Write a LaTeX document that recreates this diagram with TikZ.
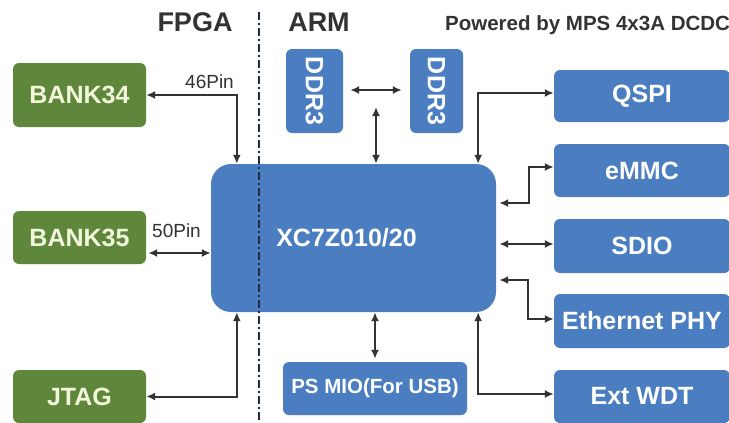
\documentclass[tikz,border=0pt]{standalone}
\usepackage{fontspec}
\setmainfont{Liberation Sans}
\usepackage{graphicx}
\usetikzlibrary{arrows.meta,calc}
\definecolor{zblue}{HTML}{4A7EC0}
\definecolor{zgreen}{HTML}{5F873B}
\definecolor{zgtext}{HTML}{F2F7DC}
\definecolor{zline}{HTML}{333333}
\definecolor{zdash}{HTML}{1F2B44}
\tikzset{
  bluebox/.style={draw=none, fill=zblue, rounded corners=6pt, text=white,
    font=\bfseries\fontsize{25}{25}\selectfont, inner sep=0pt},
  greenbox/.style={draw=none, fill=zgreen, rounded corners=6pt, text=zgtext,
    font=\bfseries\fontsize{25}{25}\selectfont, inner sep=0pt,
    minimum width=133pt},
  rightbox/.style={bluebox, minimum width=176pt},
  conn/.style={draw=zline, line width=2pt,
    {Latex[length=9pt,width=8pt]}-{Latex[length=9pt,width=8pt]}},
  header/.style={text=zline, font=\bfseries\fontsize{27}{27}\selectfont, inner sep=0pt},
  pinlabel/.style={text=zline, font=\fontsize{19}{19}\selectfont, inner sep=0pt},
}
\begin{document}
\begin{tikzpicture}[x=1pt,y=-1pt]
\clip (0,0) rectangle (729,423);
\fill[white] (0,0) rectangle (729,423);

% headers
\node[header] (fpga) at (195,22) {FPGA};
\node[header] (arm) at (319,22) {ARM};
\node[text=zline, font=\bfseries\fontsize{20.5}{20.5}\selectfont, inner sep=0pt, anchor=west] (pow) at (445,25) {Powered by MPS 4x3A DCDC};

% green boxes
\node[greenbox, minimum height=64pt] (b34) at (79.5,95) {BANK34};
\node[greenbox, minimum height=53pt] (b35) at (79.5,237.5) {BANK35};
\node[greenbox, minimum height=53pt] (jtag) at (79.5,396.5) {JTAG};

% chip
\node[bluebox, rounded corners=20pt, minimum width=285pt, minimum height=148pt] (chip) at (353.5,238) {XC7Z010/20\hspace*{14pt}};

% DDR3
\node[bluebox, minimum width=57pt, minimum height=84pt] (ddrl) at (314.5,91) {\rotatebox{-90}{DDR3}};
\node[bluebox, minimum width=53pt, minimum height=84pt] (ddrr) at (436.5,91) {\rotatebox{-90}{DDR3}};

% PS MIO
\node[bluebox, minimum width=184pt, minimum height=53pt, font=\bfseries\fontsize{20.5}{20.5}\selectfont] (mio) at (375,388.5) {PS MIO(For USB)};

% right boxes
\node[rightbox, minimum height=52pt] (qspi) at (642,96) {QSPI};
\node[rightbox, minimum height=53pt] (emmc) at (642,170.5) {eMMC};
\node[rightbox, minimum height=54pt] (sdio) at (642,246) {SDIO};
\node[rightbox, minimum height=54pt] (eth) at (642,321) {Ethernet PHY};
\node[rightbox, minimum height=53pt] (wdt) at (642,396.5) {Ext WDT};

% dash-dot divider
\draw[zdash, line width=1.8pt, dash pattern=on 8pt off 3pt on 2pt off 3pt] (259,12) -- (259,423);

% pin labels
\node[pinlabel] (p46) at (209.5,82) {46Pin};
\node[pinlabel] (p50) at (176.5,231) {50Pin};

% helper coordinates
\coordinate (cA) at ($(chip.north west)+(26,0)$);
\coordinate (cQ) at ($(chip.north east)+(-18,0)$);
\coordinate (cW) at ($(chip.south east)+(-18,0)$);
\coordinate (cJ) at ($(chip.south west)+(26,0)$);
\coordinate (ddrbus) at (376,90);
\coordinate (e1) at (529,203);
\coordinate (e2) at (528,280);
\coordinate (b35y) at ($(b35.east)+(2,15.5)$);

% connectors
\draw[conn] (b34.east) -| (cA);
\draw[conn] (b35y) -- (chip.west |- b35y);
\draw[conn] (jtag.east) -| (cJ);
\draw[conn, shorten <=7pt, shorten >=8pt] (ddrl.east |- ddrbus) -- (ddrr.west |- ddrbus);
\draw[conn, shorten <=17pt] (ddrbus) -- (chip.north -| ddrbus);
\draw[conn] (cQ) |- (qspi.west |- 0,93);
\draw[conn, shorten <=3pt] (chip.east |- e1) -- (e1) |- (emmc.west |- 0,167);
\draw[conn, shorten <=3pt] (chip.east |- 0,244) -- (sdio.west |- 0,244);
\draw[conn, shorten <=3pt] (chip.east |- e2) -- (e2) |- (eth.west |- 0,319);
\draw[conn] (cW) |- (wdt.west |- 0,394);
\draw[conn, shorten >=3pt] (chip.south -| mio.north) -- (mio.north);
\end{tikzpicture}
\end{document}
